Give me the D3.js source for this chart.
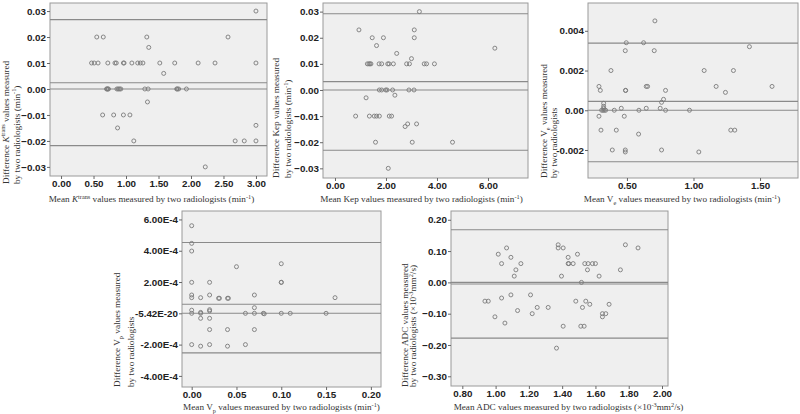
<!DOCTYPE html>
<html><head><meta charset="utf-8">
<script src="https://cdn.jsdelivr.net/npm/d3@7"></script>
<style>body{margin:0;background:#fff}</style>
</head><body>
<svg id="c" width="800" height="414"></svg>
<script>
// ---------- DATA ----------
const ktransX = [0.55,0.65,1.32,2.57,3.0,1.35,
  0.47,0.51,0.57,0.72,0.83,0.85,0.96,0.97,1.09,1.18,1.22,1.26,1.52,1.75,2.11,2.37,3.0,
  1.58,
  0.70,0.71,0.72,0.73,0.86,0.88,0.90,0.92,1.29,1.34,1.78,1.79,1.81,1.93,
  1.33,0.64,0.81,0.96,1.06,0.87,1.12,3.0,2.68,2.82,3.0,2.22];
const ktransY = [0.02,0.02,0.02,0.02,0.03,0.016,
  0.01,0.01,0.01,0.01,0.01,0.01,0.01,0.01,0.01,0.01,0.01,0.01,0.01,0.01,0.01,0.01,0.01,
  0.006,
  0,0,0,0,0,0,0,0,0,0,0,0,0,0,
  -0.005,-0.01,-0.01,-0.01,-0.01,-0.015,-0.02,-0.014,-0.02,-0.02,-0.02,-0.03];
const ktransLines = [0.0267, 0.0024, 0, -0.0218];

const kepX = [3.31,0.94,3.11,1.46,1.90,3.11,1.63,2.42,6.27,3.0,
  1.27,1.33,1.37,1.41,1.73,1.83,2.07,2.12,2.29,2.81,2.92,3.50,3.59,3.90,
  1.74,1.83,1.99,2.04,2.26,2.90,3.10,
  2.35,1.22,
  0.81,1.35,1.54,1.63,1.74,2.13,2.22,
  2.75,2.85,3.20,1.59,3.03,4.61,2.09];
const kepY = [0.03,0.023,0.023,0.02,0.02,0.02,0.017,0.014,0.016,0.012,
  0.01,0.01,0.01,0.01,0.01,0.01,0.01,0.01,0.01,0.01,0.01,0.01,0.01,0.01,
  0,0,0,0,0,0,0,
  -0.002,-0.003,
  -0.01,-0.01,-0.01,-0.01,-0.01,-0.01,-0.01,
  -0.014,-0.013,-0.013,-0.02,-0.02,-0.02,-0.03];
const kepLines = [0.0292, 0.0032, 0, -0.0231];

const veX = [0.71,0.495,0.625,0.4875,0.705,1.42,
  0.38,1.08,1.30,
  0.29,0.30,0.49,0.49,0.645,0.655,0.79,1.17,1.24,1.59,
  0.775,0.76,0.325,0.325,0.325,
  0.31,0.32,0.33,0.34,0.405,0.59,0.79,0.97,
  0.4575,0.645,0.75,
  0.29,0.48,0.305,0.42,1.28,1.31,0.5875,
  0.39,0.4875,0.76,0.4875,1.04];
const veY = [0.0045,0.0034,0.0034,0.003,0.003,0.0032,
  0.002,0.002,0.002,
  0.0012,0.001,0.001,0.001,0.0012,0.0012,0.001,0.0012,0.0009,0.0012,
  0.00055,0.0004,0.00035,0.0002,0.0001,
  0,0,0,0,0,0,0,0,
  0.0001,0.0001,0.0001,
  -0.0003,-0.0003,-0.001,-0.001,-0.001,-0.001,-0.0012,
  -0.002,-0.002,-0.002,-0.0021,-0.0021];
const veLines = [0.00338, 0.00045, 0, -0.00259];

const vpX = [0,0,0,0.05,0.10,0,0.02,0.10,0.10,
  0,0,0.01,0.02,0.03,0.031,0.04,0.041,0.07,0.16,
  0.07,0,0,0.01,0.01,0.02,0.02,
  0.06,0.07,0.08,0.081,0.10,0.11,0.15,
  0.01,0.02,0.02,0.04,0.07,
  0,0.01,0.02,0.04,0.06];
const vpY = [5.6e-4,4.47e-4,3.98e-4,2.98e-4,3.17e-4,1.98e-4,1.98e-4,1.98e-4,1.98e-4,
  1.17e-4,1.0e-4,1.0e-4,1.17e-4,0.96e-4,0.96e-4,0.96e-4,0.96e-4,1.17e-4,1.0e-4,
  0.36e-4,0.2e-4,0,0.06e-4,0,0.23e-4,0.15e-4,
  0,0,0,-0.03e-4,0,0,0,
  -0.32e-4,-0.32e-4,-1.04e-4,-1.04e-4,-1.04e-4,
  -2.0e-4,-2.1e-4,-2.0e-4,-2.1e-4,-2.0e-4];
const vpLines = [4.53e-4, 0.575e-4, 0, -2.53e-4];

const adcX = [1.066,1.016,1.092,1.036,1.122,1.112,1.152,
  1.376,1.376,1.406,1.436,1.436,1.440,1.466,1.492,1.396,
  1.536,1.556,1.582,1.60,1.552,1.622,1.516,1.75,1.78,1.856,
  0.936,0.956,1.036,1.092,0.996,1.056,1.132,1.21,1.22,1.25,1.316,
  1.406,1.366,1.482,1.542,1.566,1.522,1.512,1.532,1.642,1.642,1.662,1.682];
const adcY = [0.11,0.09,0.08,0.06,0.04,0.02,0.06,
  0.12,0.11,0.11,0.08,0.06,0.06,0.06,0.09,0.02,
  0.06,0.06,0.06,0.06,0.04,0.02,0.0,0.04,0.12,0.11,
  -0.06,-0.06,-0.05,-0.04,-0.11,-0.13,-0.09,-0.04,-0.10,-0.08,-0.08,
  -0.14,-0.21,-0.06,-0.06,-0.07,-0.08,-0.14,-0.14,-0.11,-0.10,-0.10,-0.07];
const adcLines = [0.168, 0, -0.005, -0.178];

// tick values and labels
const ktransXTicks = [0,0.5,1,1.5,2,2.5,3];
const ktransYTicks = [0.03,0.02,0.01,0,-0.01,-0.02,-0.03];
const kepXTicks = [0,2,4,6];
const kepYTicks = [0.03,0.02,0.01,0,-0.01,-0.02,-0.03];
const veXTicks = [0.5,1.0,1.5];
const veYTicks = [0.004,0.002,0,-0.002];
const veYLabels = ["0.004","0.002","0.00","-0.002"];
const vpXTicks = [0,0.05,0.10,0.15,0.20];
const vpYTicks = [6e-4,4e-4,2e-4,-5.42e-20,-2e-4,-4e-4];
const vpYLabels = ["6.00E-4","4.00E-4","2.00E-4","-5.42E-20","-2.00E-4","-4.00E-4"];
const adcXTicks = [0.8,1.0,1.2,1.4,1.6,1.8,2.0];
const adcYTicks = [0.2,0.1,0,-0.1,-0.2,-0.3];

// ---------- DRAW ----------
const svg = d3.select("#c");
const f2 = d3.format(".2f");
const LABEL_FS = 9.2;

function rich(sel, parts){
  let shift = 0;
  parts.forEach(([t, s])=>{
    const ts = sel.append("tspan").text(t);
    let target = 0;
    if (s === "i") ts.attr("font-style","italic");
    if (s === "sup") { target = -3.5; ts.attr("font-size","6.3px"); }
    if (s === "sub") { target = 2.5; ts.attr("font-size","6.3px"); }
    ts.attr("dy", target - shift);
    shift = target;
  });
}

function panel(cfg){
  const {x0,x1,y0,y1,xd,yd,xs,ys,lines,xt,yt,xfmt,yfmt,xlab,ylab1,ylab2,ylx,yly,xly,xlOff} = cfg;
  const x = d3.scaleLinear().domain(xd).range([x0,x1]);
  const y = d3.scaleLinear().domain(yd).range([y1,y0]);
  const g = svg.append("g");
  g.append("rect").attr("x",x0).attr("y",y0).attr("width",x1-x0).attr("height",y1-y0)
    .attr("fill","#efefef").attr("stroke","#9a9a9a").attr("stroke-width",1);
  g.selectAll("line.ref").data(lines).join("line").attr("class","ref")
    .attr("x1",x0).attr("x2",x1).attr("y1",d=>y(d)).attr("y2",d=>y(d))
    .attr("stroke","#8a8a8a").attr("stroke-width",1.1);
  g.selectAll("circle").data(xs.map((v,i)=>[v,ys[i]])).join("circle")
    .attr("cx",d=>x(d[0])).attr("cy",d=>y(d[1])).attr("r",2)
    .attr("fill","none").attr("stroke","#7a7a7a").attr("stroke-width",0.9);
  const ya = d3.axisLeft(y).tickValues(yt).tickSize(3).tickPadding(1).tickFormat(yfmt);
  const xa = d3.axisBottom(x).tickValues(xt).tickSize(3).tickPadding(1.5).tickFormat(xfmt);
  const gy = g.append("g").attr("transform",`translate(${x0},0)`).call(ya);
  const gx = g.append("g").attr("transform",`translate(0,${y1})`).call(xa);
  [gy,gx].forEach(a=>{
    a.select(".domain").remove();
    a.selectAll(".tick line").attr("stroke","#666");
    a.selectAll("text").attr("font-family","Liberation Sans, Arial, sans-serif")
      .attr("font-size","9.8px").attr("fill","#222").attr("font-weight","bold");
  });
  const xl = g.append("text").attr("x",(x0+x1)/2 + xlOff).attr("y",xly).attr("text-anchor","middle")
    .attr("font-family","Liberation Serif, Times New Roman, serif").attr("font-size",LABEL_FS+"px").attr("fill","#333");
  rich(xl, xlab);
  [[ylab1,ylx[0]],[ylab2,ylx[1]]].forEach(([parts,lx])=>{
    const t = g.append("text").attr("transform",`translate(${lx},${yly}) rotate(-90)`)
      .attr("text-anchor","start")
      .attr("font-family","Liberation Serif, Times New Roman, serif").attr("font-size",LABEL_FS+"px").attr("fill","#333");
    rich(t, parts);
  });
}

panel({x0:50,x1:267,y0:3,y1:176,xd:[-0.17,3.17],yd:[-0.0335,0.0331],
  xs:ktransX,ys:ktransY,lines:ktransLines,xt:ktransXTicks,yt:ktransYTicks,
  xfmt:f2,yfmt:f2,xly:202,ylx:[8.5,19.5],yly:184,xlOff:-7,
  xlab:[["Mean ","n"],["K","i"],["trans","sup"],[" values measured by two radiologists (min","n"],["-1","sup"],[")","n"]],
  ylab1:[["Difference ","n"],["K","i"],["trans","sup"],[" values measured","n"]],
  ylab2:[["by two radiologists (min","n"],["-1","sup"],[")","n"]]});

panel({x0:323,x1:528,y0:3,y1:178,xd:[-0.47,7.57],yd:[-0.0337,0.0333],
  xs:kepX,ys:kepY,lines:kepLines,xt:kepXTicks,yt:kepYTicks,
  xfmt:f2,yfmt:f2,xly:202,ylx:[279,291],yly:178,xlOff:-4,
  xlab:[["Mean Kep values measured by two radiologists (min","n"],["-1","sup"],[")","n"]],
  ylab1:[["Difference Kep values measured","n"]],
  ylab2:[["by two radiologists (min","n"],["-1","sup"],[")","n"]]});

panel({x0:588,x1:798,y0:3,y1:178,xd:[0.2075,1.785],yd:[-0.00341,0.0054],
  xs:veX,ys:veY,lines:veLines,xt:veXTicks,yt:veYTicks,
  xfmt:f2,yfmt:(d,i)=>veYLabels[i],xly:202,ylx:[547,557],yly:178,xlOff:-11,
  xlab:[["Mean V","n"],["e","sub"],[" values measured by two radiologists (min","n"],["-1","sup"],[")","n"]],
  ylab1:[["Difference V","n"],["e","sub"],[" values measured","n"]],
  ylab2:[["by two radiologists","n"]]});

panel({x0:182,x1:381,y0:211,y1:387,xd:[-0.0108,0.2113],yd:[-4.71e-4,6.54e-4],
  xs:vpX,ys:vpY,lines:vpLines,xt:vpXTicks,yt:vpYTicks,
  xfmt:f2,yfmt:(d,i)=>vpYLabels[i],xly:410,ylx:[120,134],yly:387,xlOff:0,
  xlab:[["Mean V","n"],["p","sub"],[" values measured by two radiologists (min","n"],["-1","sup"],[")","n"]],
  ylab1:[["Difference V","n"],["p","sub"],[" values measured","n"]],
  ylab2:[["by two radiologists","n"]]});

panel({x0:451,x1:668,y0:211,y1:386,xd:[0.732,2.036],yd:[-0.331,0.228],
  xs:adcX,ys:adcY,lines:adcLines,xt:adcXTicks,yt:adcYTicks,
  xfmt:f2,yfmt:f2,xly:410,ylx:[408,416],yly:387,xlOff:9,
  xlab:[["Mean ADC values measured by two radiologists (×10","n"],["-3","sup"],["mm","n"],["2","sup"],["/s)","n"]],
  ylab1:[["Difference ADC values measured","n"]],
  ylab2:[["by two radiologists (×10","n"],["-3","sup"],["mm","n"],["2","sup"],["/s)","n"]]});
</script>
</body></html>
